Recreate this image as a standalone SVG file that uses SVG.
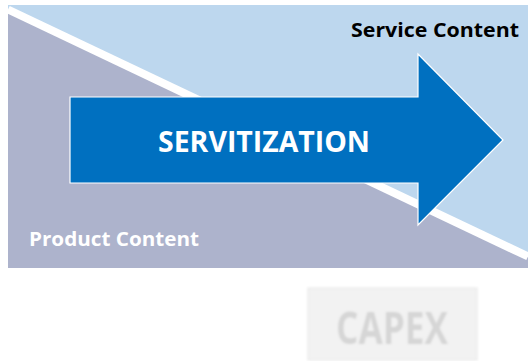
<svg xmlns="http://www.w3.org/2000/svg" width="528" height="361" viewBox="0 0 528 361">
<style>
.lbl{font-family:"Open Sans","Liberation Sans",sans-serif;font-weight:bold}
</style>
<defs>
<filter id="blur" x="-5%" y="-5%" width="110%" height="110%"><feGaussianBlur stdDeviation="0.8"/></filter>
</defs>
<rect width="528" height="361" fill="#ffffff"/>
<g id="background">
<rect x="8" y="5" width="520" height="263" fill="#ADB3CC"/>
<polygon points="8,5 528,5 528,257 8,9.5" fill="#BDD7EE"/>
<line x1="8" y1="9.5" x2="528" y2="256.5" stroke="#ffffff" stroke-width="8"/>
</g>
<g id="arrow">
<polygon points="70,97 418,97 418,54 503,140 418,225 418,183 70,183" fill="#0070C0" stroke="#ffffff" stroke-width="1.2"/>
<text class="lbl" x="264" y="152" font-size="29" fill="#ffffff" text-anchor="middle" textLength="212" lengthAdjust="spacingAndGlyphs">SERVITIZATION</text>
</g>
<g id="service-content">
<text class="lbl" x="351" y="37" font-size="19.5" fill="#000000" textLength="168" lengthAdjust="spacingAndGlyphs">Service Content</text>
</g>
<g id="product-content">
<text class="lbl" x="29" y="246" font-size="19.5" fill="#ffffff" textLength="170" lengthAdjust="spacingAndGlyphs">Product Content</text>
</g>
<g id="capex" filter="url(#blur)">
<rect x="308" y="288" width="169" height="72" fill="#F2F2F2" stroke="#E8E8E8" stroke-width="1"/>
<text class="lbl" x="392" y="344" font-size="44" fill="#D6D6D6" text-anchor="middle" textLength="112" lengthAdjust="spacingAndGlyphs">CAPEX</text>
</g>
</svg>
